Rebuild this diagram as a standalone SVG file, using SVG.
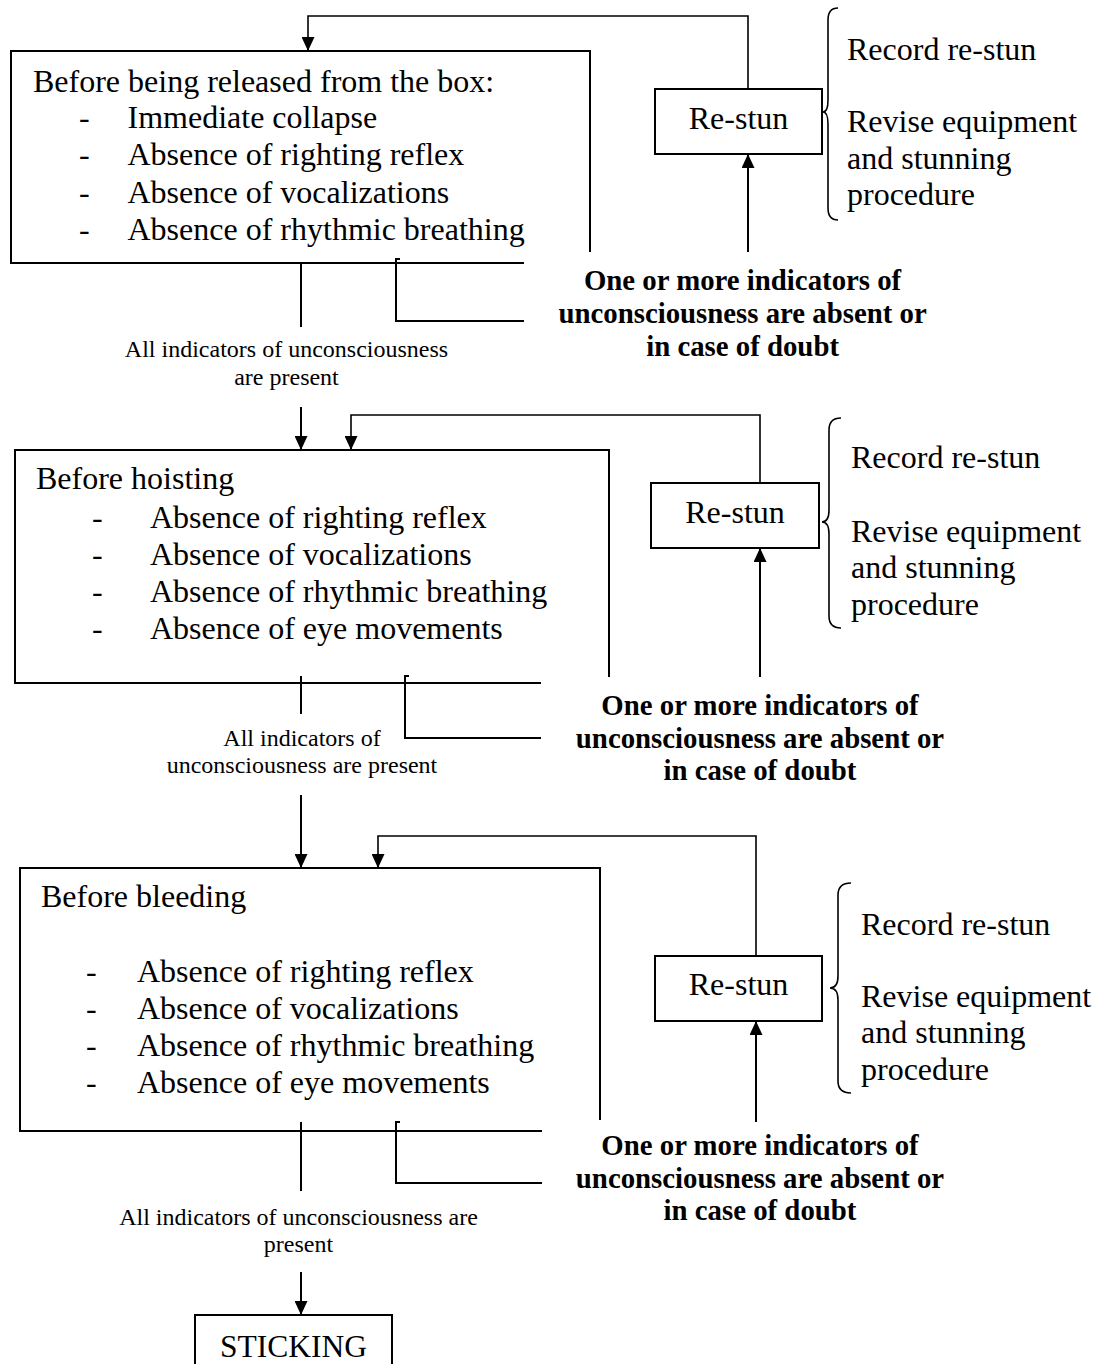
<svg xmlns="http://www.w3.org/2000/svg" width="1099" height="1364" viewBox="0 0 1099 1364">
<defs>
<marker id="ah" viewBox="0 0 14 13" refX="14" refY="6.5" markerWidth="14" markerHeight="13" markerUnits="userSpaceOnUse" orient="auto">
<path d="M0,0 L14,6.5 L0,13 z" fill="#000"/>
</marker>
</defs>
<style>
.bx{fill:none;stroke:#000;stroke-width:2}
.ln{fill:none;stroke:#000;stroke-width:2}
.lp{fill:none;stroke:#000;stroke-width:1.6}
.ar{fill:none;stroke:#000;stroke-width:2;marker-end:url(#ah)}
.br{fill:none;stroke:#000;stroke-width:1.6}
.t{font-family:"Liberation Serif","Times New Roman",serif;font-size:32px;fill:#000}
.s{font-family:"Liberation Serif","Times New Roman",serif;font-size:24px;fill:#000;text-anchor:middle}
.b{font-family:"Liberation Serif","Times New Roman",serif;font-size:28.8px;font-weight:bold;fill:#000;text-anchor:middle}
.c{text-anchor:middle}
</style>
<rect width="1099" height="1364" fill="#fff"/>

<g id="connectors">
<!-- section 1 -->
<path class="lp" d="M748,89 V16 H308 V44"/>
<path class="ar" d="M308,38 V51"/>
<path class="ar" d="M748,252 V154"/>
<path class="ln" d="M301,263 V327"/>
<path class="ln" d="M524,321 H396 V259 H400"/>
<!-- section 2 -->
<path class="ar" d="M301,407 V450"/>
<path class="lp" d="M760,483 V415 H351 V440"/>
<path class="ar" d="M351,436 V450"/>
<path class="ar" d="M760,677 V548"/>
<path class="ln" d="M301,676 V714"/>
<path class="ln" d="M541,738 H405 V676 H409"/>
<!-- section 3 -->
<path class="ar" d="M301,795 V868"/>
<path class="lp" d="M756,956 V836 H378 V858"/>
<path class="ar" d="M378,854 V868"/>
<path class="ar" d="M756,1122 V1021"/>
<path class="ln" d="M301,1122 V1191"/>
<path class="ln" d="M542,1183 H396 V1122 H400"/>
<path class="ar" d="M301,1272 V1315"/>
</g>

<g id="box1">
<path class="bx" d="M524,263 H11 V51 H590 V252"/>
<text class="t" x="33" y="92">Before being released from the box:</text>
<text class="t" x="79" y="128">-</text>
<text class="t" x="127.5" y="128">Immediate collapse</text>
<text class="t" x="79" y="165">-</text>
<text class="t" x="127.5" y="165">Absence of righting reflex</text>
<text class="t" x="79" y="203">-</text>
<text class="t" x="127.5" y="203">Absence of vocalizations</text>
<text class="t" x="79" y="240">-</text>
<text class="t" x="127.5" y="240">Absence of rhythmic breathing</text>
</g>
<g id="restun1">
<rect class="bx" x="655" y="89" width="167" height="65"/>
<text class="t c" x="738.5" y="129">Re-stun</text>
</g>
<g id="actions1">
<path class="br" d="M838,8 Q828,8 828,20 L828,100 Q828,112 823,112 Q828,112 828,124 L828,208 Q828,220 838,220"/>
<text class="t" x="847" y="60">Record re-stun</text>
<text class="t" x="847" y="132">Revise equipment</text>
<text class="t" x="847" y="168.5">and stunning</text>
<text class="t" x="847" y="205">procedure</text>
</g>
<g id="fail1">
<text class="b" x="742.6" y="290">One or more indicators of</text>
<text class="b" x="742.6" y="323">unconsciousness are absent or</text>
<text class="b" x="742.6" y="356">in case of doubt</text>
</g>
<g id="pass1">
<text class="s" x="286.5" y="357">All indicators of unconsciousness</text>
<text class="s" x="286.5" y="385">are present</text>
</g>

<g id="box2">
<path class="bx" d="M541,683 H15 V450 H609 V677"/>
<text class="t" x="36" y="489">Before hoisting</text>
<text class="t" x="92" y="528">-</text>
<text class="t" x="150" y="528">Absence of righting reflex</text>
<text class="t" x="92" y="565">-</text>
<text class="t" x="150" y="565">Absence of vocalizations</text>
<text class="t" x="92" y="602">-</text>
<text class="t" x="150" y="602">Absence of rhythmic breathing</text>
<text class="t" x="92" y="639">-</text>
<text class="t" x="150" y="639">Absence of eye movements</text>
</g>
<g id="restun2">
<rect class="bx" x="651" y="483" width="168" height="65"/>
<text class="t c" x="735" y="523">Re-stun</text>
</g>
<g id="actions2">
<path class="br" d="M841,418 Q829,418 829,430 L829,510 Q829,522 822,522 Q829,522 829,534 L829,616 Q829,628 841,628"/>
<text class="t" x="851" y="468">Record re-stun</text>
<text class="t" x="851" y="542">Revise equipment</text>
<text class="t" x="851" y="578">and stunning</text>
<text class="t" x="851" y="615">procedure</text>
</g>
<g id="fail2">
<text class="b" x="760" y="715">One or more indicators of</text>
<text class="b" x="760" y="748">unconsciousness are absent or</text>
<text class="b" x="760" y="780">in case of doubt</text>
</g>
<g id="pass2">
<text class="s" x="302" y="746">All indicators of</text>
<text class="s" x="302" y="773">unconsciousness are present</text>
</g>

<g id="box3">
<path class="bx" d="M542,1131 H20 V868 H600 V1120"/>
<text class="t" x="41" y="907">Before bleeding</text>
<text class="t" x="86" y="982">-</text>
<text class="t" x="137" y="982">Absence of righting reflex</text>
<text class="t" x="86" y="1019">-</text>
<text class="t" x="137" y="1019">Absence of vocalizations</text>
<text class="t" x="86" y="1056">-</text>
<text class="t" x="137" y="1056">Absence of rhythmic breathing</text>
<text class="t" x="86" y="1093">-</text>
<text class="t" x="137" y="1093">Absence of eye movements</text>
</g>
<g id="restun3">
<rect class="bx" x="655" y="956" width="167" height="65"/>
<text class="t c" x="738.5" y="995">Re-stun</text>
</g>
<g id="actions3">
<path class="br" d="M851,883 Q838,883 838,895 L838,976 Q838,988 830,988 Q838,988 838,1000 L838,1081 Q838,1093 851,1093"/>
<text class="t" x="861" y="935">Record re-stun</text>
<text class="t" x="861" y="1007">Revise equipment</text>
<text class="t" x="861" y="1043">and stunning</text>
<text class="t" x="861" y="1080">procedure</text>
</g>
<g id="fail3">
<text class="b" x="760" y="1155">One or more indicators of</text>
<text class="b" x="760" y="1188">unconsciousness are absent or</text>
<text class="b" x="760" y="1220">in case of doubt</text>
</g>
<g id="pass3">
<text class="s" x="298.5" y="1225">All indicators of unconsciousness are</text>
<text class="s" x="298.5" y="1252">present</text>
</g>

<g id="sticking">
<rect class="bx" x="195" y="1315" width="197" height="60"/>
<text class="t c" x="293.5" y="1357" style="font-size:31.5px">STICKING</text>
</g>
</svg>
